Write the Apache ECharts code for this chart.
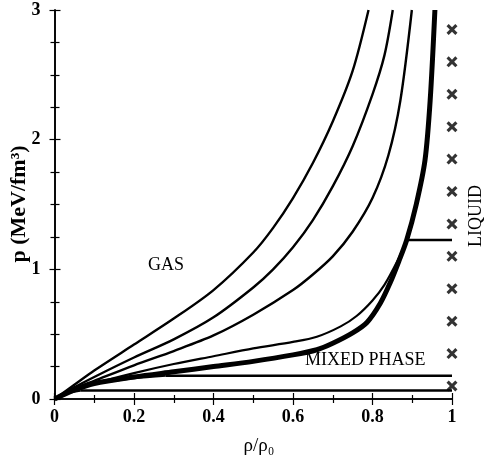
<!DOCTYPE html>
<html>
<head>
<meta charset="utf-8">
<script src="https://cdn.jsdelivr.net/npm/echarts@6/dist/echarts.min.js"></script>
<style>
  html, body { margin: 0; padding: 0; background: #fff; }
  #chart { width: 484px; height: 457px; }
</style>
</head>
<body>
<div id="chart"></div>
<script>
// isotherms, [rho/rho0, p]
const isoA = [[0,0],[0.05,0.11],[0.1,0.22],[0.2,0.42],[0.3,0.62],[0.4,0.84],[0.5,1.13],[0.55,1.32],[0.6,1.55],[0.65,1.82],[0.7,2.14],[0.75,2.53],[0.79,3]];
const isoB = [[0,0],[0.05,0.09],[0.1,0.17],[0.2,0.32],[0.3,0.46],[0.4,0.63],[0.5,0.86],[0.55,1.0],[0.6,1.17],[0.65,1.38],[0.7,1.64],[0.75,1.95],[0.8,2.35],[0.83,2.65],[0.851,3]];
const isoC = [[0,0],[0.05,0.08],[0.1,0.14],[0.2,0.26],[0.3,0.37],[0.4,0.49],[0.5,0.65],[0.6,0.84],[0.65,0.96],[0.7,1.1],[0.75,1.29],[0.8,1.55],[0.84,1.88],[0.87,2.3],[0.899,3]];
const isoE = [[0,0],[0.05,0.07],[0.1,0.12],[0.2,0.2],[0.3,0.27],[0.4,0.33],[0.5,0.39],[0.6,0.44],[0.66,0.48],[0.72,0.56],[0.76,0.64],[0.8,0.76],[0.83,0.88],[0.862,1.06],[0.887,1.226]];
const isoF = [[0,0],[0.05,0.07],[0.1,0.115],[0.2,0.16],[0.28,0.18]];
const isoG = [[0,0],[0.02,0.03],[0.04,0.05],[0.065,0.065]];
// thick boundary curve
const boundary = [[0,0],[0.05,0.07],[0.1,0.12],[0.2,0.17],[0.3,0.21],[0.4,0.25],[0.5,0.29],[0.6,0.34],[0.66,0.38],[0.7,0.43],[0.75,0.51],[0.786,0.59],[0.82,0.74],[0.845,0.9],[0.866,1.06],[0.886,1.226],[0.91,1.5],[0.932,1.84],[0.945,2.3],[0.957,3]];
// flat (mixed phase) segments
const flatE = [[0.887,1.226],[1,1.226]];
const flatF = [[0.28,0.18],[1,0.18]];
const flatG = [[0.065,0.065],[1,0.065]];
// liquid points on rho/rho0 = 1
const liquidP = [0.1,0.35,0.6,0.85,1.1,1.35,1.6,1.85,2.1,2.35,2.6,2.85];

const serif = "'Liberation Serif', 'DejaVu Serif', serif";
const chart = echarts.init(document.getElementById('chart'));

function curve(data, w) {
  return {
    type: 'line', data: data, symbol: 'none', smooth: 0.3,
    lineStyle: {color: '#000', width: w}, z: 3
  };
}
function flat(data) {
  return {type: 'line', data: data, symbol: 'none', lineStyle: {color: '#000', width: 2.5}, z: 3};
}

const tickStyle = {color: '#000', width: 1.2};
const option = {
  backgroundColor: '#fff',
  animation: false,
  grid: {left: 54.5, right: 32, top: 10, bottom: 58},
  xAxis: [{
    type: 'value', min: 0, max: 1, interval: 0.2, position: 'bottom',
    axisLine: {lineStyle: {color: '#000', width: 1.6}},
    axisTick: {inside: true, length: 6, lineStyle: tickStyle},
    minorTick: {show: true, splitNumber: 2, length: 4, lineStyle: tickStyle},
    splitLine: {show: false},
    axisLabel: {
      margin: 9, color: '#000', fontFamily: serif, fontWeight: 'bold', fontSize: 18,
      formatter: v => (v === 0 || v === 1) ? String(v) : v.toFixed(1)
    }
  }, {
    type: 'value', min: 0, max: 1, interval: 0.2, position: 'top',
    axisLine: {lineStyle: {color: '#000', width: 1.6}},
    axisTick: {inside: true, length: 6, lineStyle: tickStyle},
    minorTick: {show: true, splitNumber: 2, length: 4, lineStyle: tickStyle},
    splitLine: {show: false}, axisLabel: {show: false}
  }],
  yAxis: [{
    type: 'value', min: 0, max: 3, interval: 1, position: 'left',
    axisLine: {lineStyle: {color: '#000', width: 1.6}},
    axisTick: {inside: true, length: 6, lineStyle: tickStyle},
    minorTick: {show: true, splitNumber: 4, length: 5, lineStyle: tickStyle},
    splitLine: {show: false},
    axisLabel: {margin: 14, color: '#000', fontFamily: serif, fontWeight: 'bold', fontSize: 18}
  }, {
    type: 'value', min: 0, max: 3, interval: 1, position: 'right',
    axisLine: {lineStyle: {color: '#000', width: 1.6}},
    axisTick: {inside: true, length: 5, lineStyle: tickStyle},
    minorTick: {show: true, splitNumber: 4, length: 4, lineStyle: tickStyle},
    splitLine: {show: false}, axisLabel: {show: false}
  }],
  series: [
    curve(isoA, 2.4), curve(isoB, 2.4), curve(isoC, 2.4), curve(isoE, 2.2),
    curve(isoF, 2.2), curve(isoG, 2.2), curve(boundary, 5),
    flat(flatE), flat(flatF), flat(flatG),
    {
      type: 'scatter', clip: false, z: 4,
      data: liquidP.map(p => [1, p]),
      symbol: 'path://M0,2L2,0L5,3L8,0L10,2L7,5L10,8L8,10L5,7L2,10L0,8L3,5Z',
      symbolSize: 11,
      itemStyle: {color: '#000'}
    }
  ],
  graphic: [
    {type: 'text', left: 148, top: 256, style: {text: 'GAS', font: '18px ' + serif, fill: '#000'}},
    {type: 'text', left: 305, top: 351, style: {text: 'MIXED PHASE', font: '18px ' + serif, fill: '#000'}},
    {type: 'text', x: 476, y: 216, rotation: Math.PI / 2,
      style: {text: 'LIQUID', font: '18px ' + serif, fill: '#000', align: 'center', verticalAlign: 'middle'}},
    {type: 'text', x: 19, y: 204, rotation: Math.PI / 2,
      style: {text: 'p (MeV/fm³)', font: 'bold 22px ' + serif, fill: '#000', align: 'center', verticalAlign: 'middle'}},
    {type: 'text', x: 259, y: 446,
      style: {text: 'ρ/ρ₀', font: '19px ' + serif, fill: '#000', align: 'center', verticalAlign: 'middle'}}
  ]
};
chart.setOption(option);
</script>
</body>
</html>
